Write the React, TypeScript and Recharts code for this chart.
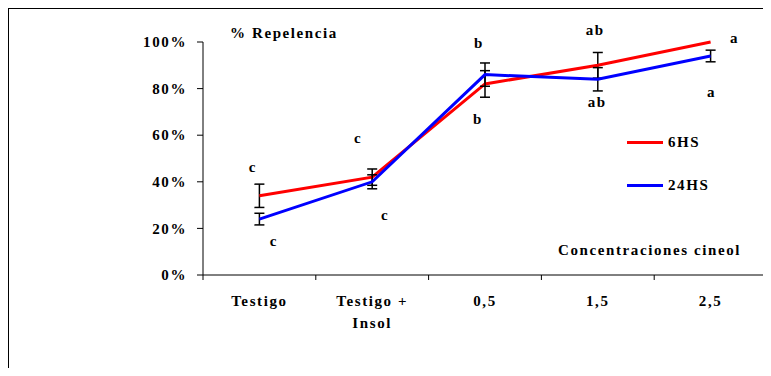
import { LineChart, Line, XAxis, YAxis, ErrorBar, LabelList, Legend } from 'recharts';

const CATEGORIES = ['Testigo', 'Testigo +\nInsol', '0,5', '1,5', '2,5'];
const SERIES_NAMES = ['6HS', '24HS'];
const HS6 = [34, 42, 82, 90, 100];
const HS6_ERR = [5, 3.5, 5.7, 5.5, 0];
const HS24 = [24, 40, 86, 84, 94];
const HS24_ERR = [2.5, 3, 5, 5, 2.5];
const LETTERS_6HS = ['c', 'c', 'b', 'ab', 'a'];
const LETTERS_24HS = ['c', 'c', 'b', 'ab', 'a'];
const Y_TICKS = [0, 20, 40, 60, 80, 100];

const FONT = '"Liberation Serif", "Times New Roman", serif';
const SPACING = 1.6;

// medidas del grafico
const W = 762;
const H = 359;
const PLOT_LEFT = 194;
const PLOT_TOP = 33;
const PLOT_W = 564;
const PLOT_H = 233;
const XAXIS_H = 50;
const BAND = PLOT_W / CATEGORIES.length;

// ajuste fino de las letras respecto de la barra de error
const UPPER_NUDGE = [[-6.5, -17], [-14, -30], [-6, -19], [-2.5, -22], [24, -4]];
const LOWER_NUDGE = [[14.5, 17], [13, 27], [-7, 22], [-0.5, 12], [1, 31]];

const data = CATEGORIES.map((name, i) => ({
  name,
  hs6: HS6[i],
  hs6Err: HS6_ERR[i],
  hs24: HS24[i],
  hs24Err: HS24_ERR[i],
  upper: LETTERS_6HS[i],
  lower: LETTERS_24HS[i],
}));

const yOf = (v: number) => PLOT_TOP + PLOT_H * (1 - v / 100);

const textStyle = {
  fontFamily: FONT,
  fontWeight: 700,
  fontSize: 15,
  letterSpacing: SPACING,
  fill: '#000',
};

function XTick({ x, y, payload, index }: any) {
  const lines = String(payload.value).split('\n');
  return (
    <g>
      <line x1={x - BAND / 2} y1={y} x2={x - BAND / 2} y2={y + 5} stroke="#000" />
      {index === CATEGORIES.length - 1 && (
        <line x1={x + BAND / 2} y1={y} x2={x + BAND / 2} y2={y + 5} stroke="#000" />
      )}
      <text x={x} y={y + 31} textAnchor="middle" style={textStyle}>
        {lines.map((l, i) => (
          <tspan key={i} x={x} dy={i === 0 ? 0 : 22}>
            {l}
          </tspan>
        ))}
      </text>
    </g>
  );
}

function YTick({ x, y, payload }: any) {
  return (
    <text x={x} y={y} dy="0.35em" textAnchor="end" style={textStyle}>
      {`${payload.value}%`}
    </text>
  );
}

function UpperLetter({ x, index, value }: any) {
  const top = Math.max(HS6[index] + HS6_ERR[index], HS24[index] + HS24_ERR[index]);
  const [dx, dy] = UPPER_NUDGE[index];
  return (
    <text x={x + dx} y={yOf(top) + dy + 4.5} textAnchor="middle" style={textStyle}>
      {value}
    </text>
  );
}

function LowerLetter({ x, index, value }: any) {
  const bottom = Math.min(HS6[index] - HS6_ERR[index], HS24[index] - HS24_ERR[index]);
  const [dx, dy] = LOWER_NUDGE[index];
  return (
    <text x={x + dx} y={yOf(bottom) + dy + 4.5} textAnchor="middle" style={textStyle}>
      {value}
    </text>
  );
}

function LegendContent({ payload }: any) {
  const items = [...(payload || [])].sort(
    (a: any, b: any) => SERIES_NAMES.indexOf(a.value) - SERIES_NAMES.indexOf(b.value)
  );
  return (
    <div style={{ fontFamily: FONT, fontWeight: 700, fontSize: 15, letterSpacing: SPACING }}>
      {items.map((item: any) => (
        <div key={item.value} style={{ display: 'flex', alignItems: 'center', height: 43 }}>
          <span style={{ display: 'inline-block', width: 36, height: 3, background: item.color }} />
          <span style={{ marginLeft: 5 }}>{item.value}</span>
        </div>
      ))}
    </div>
  );
}

export default function App() {
  return (
    <div
      style={{
        position: 'relative',
        width: W,
        height: H,
        borderTop: '1px solid #000',
        borderLeft: '1px solid #000',
        overflow: 'hidden',
        background: '#fff',
      }}
    >
      <div
        style={{
          position: 'absolute',
          left: 221,
          top: 15,
          lineHeight: '18px',
          fontFamily: FONT,
          fontWeight: 700,
          fontSize: 15,
          letterSpacing: SPACING,
          zIndex: 2,
        }}
      >
        % Repelencia
      </div>
      <div
        style={{
          position: 'absolute',
          left: 549,
          top: 232,
          lineHeight: '18px',
          fontFamily: FONT,
          fontWeight: 700,
          fontSize: 15,
          letterSpacing: SPACING,
          zIndex: 2,
        }}
      >
        Concentraciones cineol
      </div>
      <LineChart
        width={W}
        height={H}
        data={data}
        margin={{
          top: PLOT_TOP,
          right: W - PLOT_LEFT - PLOT_W,
          left: 0,
          bottom: H - PLOT_TOP - PLOT_H - XAXIS_H,
        }}
      >
        <XAxis
          dataKey="name"
          interval={0}
          height={XAXIS_H}
          padding={{ left: BAND / 2, right: BAND / 2 }}
          axisLine={{ stroke: '#000' }}
          tickLine={false}
          tickSize={0}
          tickMargin={0}
          tick={<XTick />}
        />
        <YAxis
          width={PLOT_LEFT}
          domain={[0, 100]}
          ticks={Y_TICKS}
          interval={0}
          axisLine={{ stroke: '#000' }}
          tickLine={{ stroke: '#000' }}
          tickSize={6}
          tickMargin={10}
          tick={<YTick />}
        />
        <Legend
          layout="vertical"
          align="center"
          verticalAlign="middle"
          wrapperStyle={{ left: 618, top: 112, width: 110 }}
          content={<LegendContent />}
        />
        <Line
          name="6HS"
          dataKey="hs6"
          stroke="#ff0000"
          strokeWidth={3}
          dot={false}
          activeDot={false}
          isAnimationActive={false}
        >
          <ErrorBar dataKey="hs6Err" stroke="#000" strokeWidth={1.5} width={5} />
          <LabelList dataKey="upper" content={<UpperLetter />} />
        </Line>
        <Line
          name="24HS"
          dataKey="hs24"
          stroke="#0000ff"
          strokeWidth={3}
          dot={false}
          activeDot={false}
          isAnimationActive={false}
        >
          <ErrorBar dataKey="hs24Err" stroke="#000" strokeWidth={1.5} width={5} />
          <LabelList dataKey="lower" content={<LowerLetter />} />
        </Line>
      </LineChart>
    </div>
  );
}
